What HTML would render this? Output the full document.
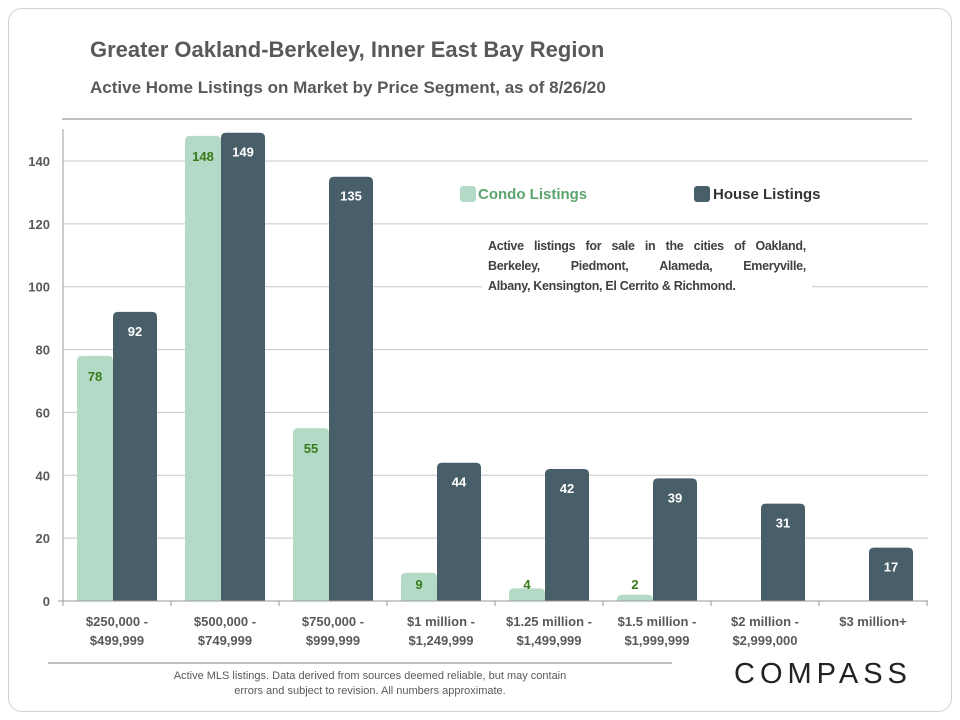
<!DOCTYPE html>
<html><head><meta charset="utf-8"><style>
body{margin:0;background:#fff;}
#wrap{position:relative;width:960px;height:720px;overflow:hidden;font-family:"Liberation Sans",sans-serif;}
#frame{position:absolute;left:8px;top:8px;width:942px;height:702px;border:1px solid #d0d0d0;border-radius:14px;}
.t{position:absolute;color:#595959;font-weight:bold;white-space:nowrap;}
.jl{display:block;text-align:justify;text-align-last:justify;height:20px;white-space:nowrap;}
</style></head><body>
<div id="wrap">
<div id="frame"></div>
<div class="t" style="left:90px;top:37px;font-size:22px;">Greater Oakland-Berkeley, Inner East Bay Region</div>
<div class="t" style="left:90px;top:78px;font-size:17px;">Active Home Listings on Market by Price Segment, as of 8/26/20</div>
<svg id="chart" width="960" height="720" style="position:absolute;left:0;top:0"></svg>
<div style="position:absolute;left:482px;top:236px;width:318px;padding:0 6px;background:#fff;color:#404040;font-weight:bold;font-size:12.5px;letter-spacing:-0.3px;line-height:20px;">
<div style="display:flex;justify-content:space-between;height:20px;"><span>Active</span><span>listings</span><span>for</span><span>sale</span><span>in</span><span>the</span><span>cities</span><span>of</span><span>Oakland,</span></div>
<div style="display:flex;justify-content:space-between;height:20px;"><span>Berkeley,</span><span>Piedmont,</span><span>Alameda,</span><span>Emeryville,</span></div>
<div style="height:20px;white-space:nowrap;">Albany, Kensington, El Cerrito &amp; Richmond.</div>
</div>
<div style="position:absolute;left:120px;top:669px;width:500px;text-align:center;color:#595959;font-size:11px;line-height:15px;">Active MLS listings. Data derived from sources deemed reliable, but may contain<br>errors and subject to revision. All numbers approximate.</div>
<div style="position:absolute;left:734px;top:658px;font-size:29px;letter-spacing:5px;color:#222;font-weight:normal;">COMPASS</div>
</div>
<script>
const categories=[["$250,000 -","$499,999"],["$500,000 -","$749,999"],["$750,000 -","$999,999"],["$1 million -","$1,249,999"],["$1.25 million -","$1,499,999"],["$1.5 million -","$1,999,999"],["$2 million -","$2,999,000"],["$3 million+",""]];
const condoValues=[78,148,55,9,4,2,null,null];
const houseValues=[92,149,135,44,42,39,31,17];
const yTicks=[0,20,40,60,80,100,120,140];
const svg=document.getElementById('chart');
const NS='http://www.w3.org/2000/svg';
const x0=63,cw=108,yBase=601,yScale=(601-161)/140;
const y=v=>yBase-v*yScale;
const xc=i=>x0+i*cw;
function mk(tag,attrs,txt){const e=document.createElementNS(NS,tag);for(const k in attrs)e.setAttribute(k,attrs[k]);if(txt!==undefined)e.textContent=txt;svg.appendChild(e);return e;}
let e=mk('line',{x1:62,x2:912,y1:119,y2:119,stroke:'#808080','stroke-width':1});

yTicks.forEach(t=>{
 if(t>0){const g=mk('line',{x1:x0,x2:928,y1:y(t),y2:y(t),stroke:'#c8c8c8','stroke-width':1});
 }
 const l=mk('text',{x:50,y:y(t)+5,'text-anchor':'end','font-size':13,'font-weight':'bold',fill:'#595959','font-family':'Liberation Sans'},t);
 
});
function bar(x,w,v,fill){const h=v*yScale,r=Math.min(5,h);const top=y(v);
 return mk('path',{d:`M${x},${yBase}V${top+r}Q${x},${top} ${x+r},${top}H${x+w-r}Q${x+w},${top} ${x+w},${top+r}V${yBase}Z`,fill});}
categories.forEach((c,i)=>{
 const cx=xc(i);
 if(condoValues[i]!=null){const b=bar(cx+14,36,condoValues[i],'#b2dac6');
  
  const t=mk('text',{x:cx+32,y:Math.min(y(condoValues[i])+25,yBase-12),'text-anchor':'middle','font-size':13,'font-weight':'bold',fill:'#3a7a1a','font-family':'Liberation Sans'},condoValues[i]);
  }
 const hb=bar(cx+50,44,houseValues[i],'#485f6a');
 
 const ht=mk('text',{x:cx+72,y:y(houseValues[i])+24,'text-anchor':'middle','font-size':13,'font-weight':'bold',fill:'#fff','font-family':'Liberation Sans'},houseValues[i]);
 
 c.forEach((s,j)=>{if(!s)return;const l=mk('text',{x:cx+54,y:626+j*19,'text-anchor':'middle','font-size':13,'font-weight':'bold',fill:'#595959','font-family':'Liberation Sans'},s);
  });
});
for(let i=0;i<=8;i++){const t=mk('line',{x1:xc(i),x2:xc(i),y1:yBase,y2:yBase+5,stroke:'#999'});
 }
e=mk('line',{x1:x0,x2:x0,y1:129,y2:yBase,stroke:'#999'});
e=mk('line',{x1:x0-5,x2:928,y1:yBase,y2:yBase,stroke:'#999'});
e=mk('line',{x1:48,x2:672,y1:663,y2:663,stroke:'#808080'});
e=mk('rect',{x:460,y:186,width:16,height:16,rx:3,fill:'#b2dac6'});
e=mk('text',{x:478,y:199,'font-size':15,'font-weight':'bold',fill:'#5aa46e','font-family':'Liberation Sans'},'Condo Listings');
e=mk('rect',{x:694,y:186,width:16,height:16,rx:3,fill:'#485f6a'});
e=mk('text',{x:713,y:199,'font-size':15,'font-weight':'bold',fill:'#333','font-family':'Liberation Sans'},'House Listings');
</script>
</body></html>
